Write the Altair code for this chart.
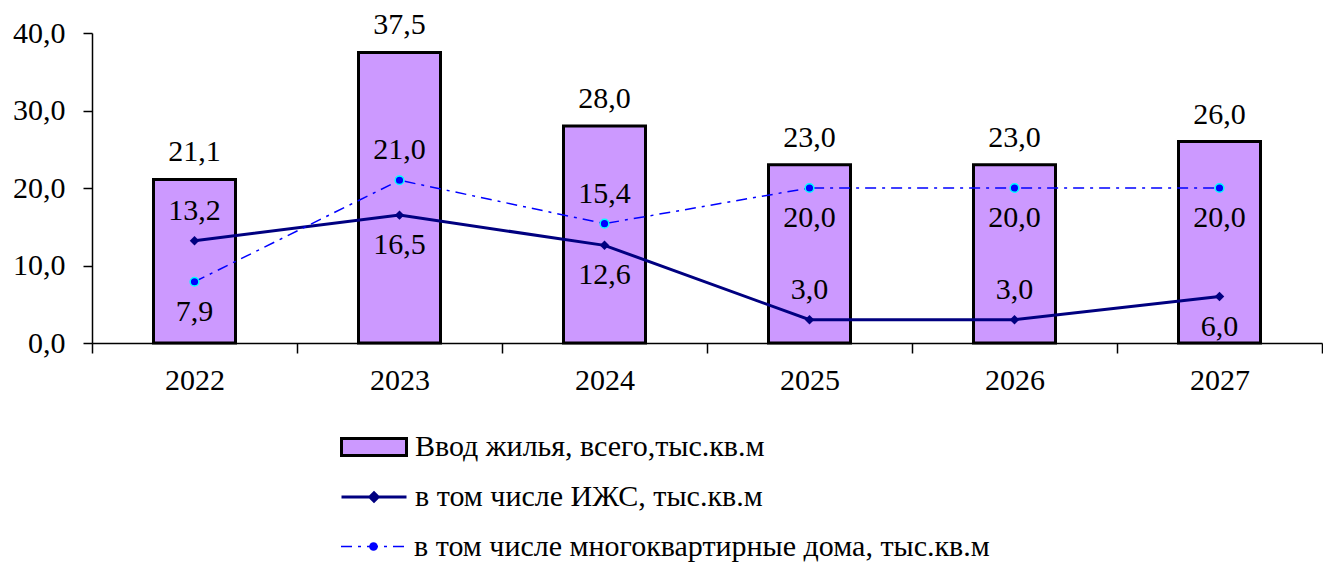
import altair as alt
import pandas as pd

years = ["2022", "2023", "2024", "2025", "2026", "2027"]
total = [21.1, 37.5, 28.0, 23.0, 23.0, 26.0]
izhs = [13.2, 16.5, 12.6, 3.0, 3.0, 6.0]
mkd = [7.9, 21.0, 15.4, 20.0, 20.0, 20.0]
izhs_label_pos = ["above", "below", "below", "above", "above", "below"]
mkd_label_pos = ["below", "above", "above", "below", "below", "below"]
series_names = [
    "Ввод жилья, всего,тыс.кв.м",
    "в том числе ИЖС, тыс.кв.м",
    "в том числе многоквартирные дома, тыс.кв.м",
]

df = pd.DataFrame({
    "year": years,
    "total": total,
    "izhs": izhs,
    "mkd": mkd,
    "izhs_pos": izhs_label_pos,
    "mkd_pos": mkd_label_pos,
    "s0": series_names[0],
    "s1": series_names[1],
    "s2": series_names[2],
})

FONT = "Liberation Serif"
FS = 30
LFS = 30
fmt = "replace(format(datum.{f}, '.1f'), '.', ',')"

x_enc = alt.X(
    "year:N",
    sort=years,
    scale=alt.Scale(paddingInner=0, paddingOuter=0),
    axis=alt.Axis(
        title=None, labelAngle=0, tickBand="extent", tickSize=10, labelPadding=12,
        labelFont=FONT, labelFontSize=FS, labelColor="black",
        domainColor="black", tickColor="black", domainWidth=1.5, tickWidth=1.5,
    ),
)
y_scale = alt.Scale(domain=[0, 40], nice=False, zero=True)


def y_enc(field):
    return alt.Y(
        f"{field}:Q",
        scale=y_scale,
        axis=alt.Axis(
            title=None, values=[0, 10, 20, 30, 40], grid=False, tickSize=9, labelPadding=18,
            labelFont=FONT, labelFontSize=FS, labelColor="black",
            domainColor="black", tickColor="black", domainWidth=1.5, tickWidth=1.5,
            labelExpr="replace(format(datum.value, '.1f'), '.', ',')",
        ),
    )


base = alt.Chart(df)

LX = 248
rect_path = "M-1,-0.26L1,-0.26L1,0.26L-1,0.26Z"
line_diamond_path = "M-1,0L1,0M-0.13,0L0,-0.13L0.13,0L0,0.13Z"
line_path = "M-1,0L1,0"

bars = base.mark_bar(size=82, stroke="black", strokeWidth=3).encode(
    x=x_enc,
    y=y_enc("total"),
    fill=alt.Fill(
        "s0:N",
        scale=alt.Scale(domain=[series_names[0]], range=["#CC99FF"]),
        legend=alt.Legend(
            orient="none", legendX=LX, legendY=380, title=None, padding=0,
            symbolType=rect_path, symbolSize=4225, symbolStrokeColor="black",
            symbolStrokeWidth=3, symbolFillColor="#CC99FF",
            labelFont=FONT, labelFontSize=LFS, labelColor="black", labelOffset=7,
            labelLimit=1000,
        ),
    ),
)

line_izhs = base.mark_line(strokeWidth=3).encode(
    x=x_enc,
    y=y_enc("izhs"),
    stroke=alt.Stroke(
        "s1:N",
        scale=alt.Scale(domain=[series_names[1]], range=["#000080"]),
        legend=alt.Legend(
            orient="none", legendX=LX, legendY=430, title=None, padding=0,
            symbolType=line_diamond_path, symbolSize=4225, symbolStrokeWidth=3,
            symbolFillColor="#000080", symbolStrokeColor="#000080",
            labelFont=FONT, labelFontSize=LFS, labelColor="black", labelOffset=7,
            labelLimit=1000,
        ),
    ),
)
pts_izhs = base.mark_point(shape="diamond", filled=True, size=90, color="#000080", opacity=1).encode(
    x=x_enc, y=y_enc("izhs")
)

line_mkd = base.mark_line(strokeWidth=1.5, strokeDash=[11, 6, 3, 6]).encode(
    x=x_enc,
    y=y_enc("mkd"),
    stroke=alt.Stroke(
        "s2:N",
        scale=alt.Scale(domain=[series_names[2]], range=["#0000FF"]),
        legend=alt.Legend(
            orient="none", legendX=LX, legendY=480, title=None, padding=0,
            symbolType=line_path, symbolSize=4225, symbolStrokeWidth=1.5,
            symbolStrokeColor="#0000FF", symbolDash=[11, 6, 3, 6],
            labelFont=FONT, labelFontSize=LFS, labelColor="black", labelOffset=7,
            labelLimit=1000,
        ),
    ),
)
pts_mkd = base.mark_point(
    filled=True, size=75, fill="#0000FF", stroke="#00FFFF", strokeWidth=1.5, opacity=1
).encode(
    x=x_enc,
    y=y_enc("mkd"),
    shape=alt.Shape(
        "s2:N",
        scale=alt.Scale(domain=[series_names[2]], range=["circle"]),
        legend=alt.Legend(
            orient="none", legendX=LX + 28, legendY=508, title=None, padding=0,
            symbolSize=75, symbolFillColor="#0000FF", symbolStrokeColor="#00FFFF",
            symbolStrokeWidth=1.5, labelExpr="''", labelFontSize=1,
        ),
    ),
)

txt_kw = dict(font=FONT, fontSize=FS, color="black", baseline="middle", align="center")

t_total = base.mark_text(dy=-27, **txt_kw).transform_calculate(
    lab=fmt.format(f="total")
).encode(x=x_enc, y=y_enc("total"), text="lab:N")

t_izhs_a = base.mark_text(dy=-30, **txt_kw).transform_filter("datum.izhs_pos == 'above'").transform_calculate(
    lab=fmt.format(f="izhs")
).encode(x=x_enc, y=y_enc("izhs"), text="lab:N")
t_izhs_b = base.mark_text(dy=30, **txt_kw).transform_filter("datum.izhs_pos == 'below'").transform_calculate(
    lab=fmt.format(f="izhs")
).encode(x=x_enc, y=y_enc("izhs"), text="lab:N")
t_mkd_a = base.mark_text(dy=-30, **txt_kw).transform_filter("datum.mkd_pos == 'above'").transform_calculate(
    lab=fmt.format(f="mkd")
).encode(x=x_enc, y=y_enc("mkd"), text="lab:N")
t_mkd_b = base.mark_text(dy=30, **txt_kw).transform_filter("datum.mkd_pos == 'below'").transform_calculate(
    lab=fmt.format(f="mkd")
).encode(x=x_enc, y=y_enc("mkd"), text="lab:N")

chart = alt.layer(
    bars, line_izhs, line_mkd, pts_izhs, pts_mkd,
    t_total, t_izhs_a, t_izhs_b, t_mkd_a, t_mkd_b,
).resolve_scale(
    fill="independent", stroke="independent", shape="independent"
).properties(
    width=1230, height=310,
    padding={"left": 84, "top": 25, "right": 1, "bottom": 221},
    autosize=alt.AutoSizeParams(type="none"),
    background="white",
).configure_view(stroke=None)

chart.save("out.html", embed_options={"renderer": "svg", "actions": False})
